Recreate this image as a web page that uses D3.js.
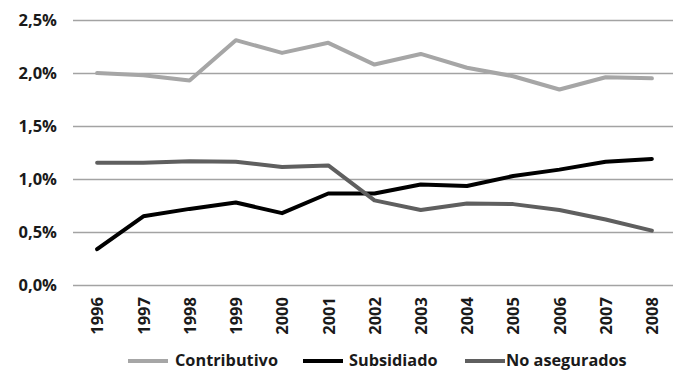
<!DOCTYPE html>
<html>
<head>
<meta charset="utf-8">
<script src="https://cdn.jsdelivr.net/npm/d3@7"></script>
<style>
  html, body { margin: 0; padding: 0; background: #fff; }
  svg { display: block; font-family: "Open Sans", "Liberation Sans", Arial, sans-serif; font-weight: bold; }
</style>
</head>
<body>
<svg id="chart" width="673" height="370"></svg>
<script>
// Health spending shares by insurance regime, 1996-2008 (% of GDP)
const years = ["1996","1997","1998","1999","2000","2001","2002","2003","2004","2005","2006","2007","2008"];
const contributivo = [2.00, 1.98, 1.93, 2.31, 2.19, 2.285, 2.08, 2.18, 2.05, 1.97, 1.845, 1.96, 1.95];
const subsidiado   = [0.34, 0.65, 0.72, 0.78, 0.68, 0.865, 0.865, 0.95, 0.935, 1.03, 1.09, 1.165, 1.19];
const noAsegurados = [1.155, 1.155, 1.17, 1.165, 1.115, 1.13, 0.80, 0.71, 0.77, 0.765, 0.71, 0.62, 0.515];
const yTicks = [0, 0.5, 1.0, 1.5, 2.0, 2.5];
const seriesNames = ["Contributivo", "Subsidiado", "No asegurados"];

const series = [
  { name: seriesNames[0], values: contributivo, color: "#a6a6a6" },
  { name: seriesNames[1], values: subsidiado,   color: "#000000" },
  { name: seriesNames[2], values: noAsegurados, color: "#5f5f5f" }
];

const svg = d3.select("#chart");

const x = d3.scalePoint().domain(years).range([74, 675]).padding(0.5);
const y = d3.scaleLinear().domain([0, 2.5]).range([285.3, 20]);

const fmt = v => v.toFixed(1).replace(".", ",") + "%";

// horizontal gridlines
svg.append("g")
  .selectAll("line")
  .data(yTicks)
  .join("line")
  .attr("x1", 73).attr("x2", 675)
  .attr("y1", d => Math.round(y(d)) + 0.5)
  .attr("y2", d => Math.round(y(d)) + 0.5)
  .attr("stroke", "#a3a3a3")
  .attr("stroke-width", 1.5);

// y axis labels
const yAxis = d3.axisLeft(y).tickValues(yTicks).tickFormat(fmt).tickSize(0).tickPadding(0);
svg.append("g")
  .attr("transform", "translate(57,0)")
  .call(yAxis)
  .call(g => g.select(".domain").remove())
  .call(g => g.selectAll("text")
    .attr("fill", "#1a1a1a")
    .style("font-size", "16.5px")
    .style("font-family", "'Open Sans', sans-serif")
    .style("font-weight", "bold"));

// x axis labels, rotated
const xAxis = d3.axisBottom(x).tickSize(0).tickPadding(0);
svg.append("g")
  .attr("transform", "translate(0,297)")
  .call(xAxis)
  .call(g => g.select(".domain").remove())
  .call(g => g.selectAll("text")
    .attr("transform", "rotate(-90)")
    .attr("text-anchor", "end")
    .attr("x", 0)
    .attr("y", 0)
    .attr("dy", "0.35em")
    .attr("fill", "#1a1a1a")
    .style("font-size", "16.5px")
    .style("font-family", "'Open Sans', sans-serif")
    .style("font-weight", "bold"));

// series lines
const line = d3.line()
  .x((d, i) => x(years[i]))
  .y(d => y(d));

svg.append("g")
  .selectAll("path")
  .data(series)
  .join("path")
  .attr("d", d => line(d.values))
  .attr("fill", "none")
  .attr("stroke", d => d.color)
  .attr("stroke-width", 4)
  .attr("stroke-linejoin", "round")
  .attr("stroke-linecap", "round");

// legend
const legendPos = [
  { lx1: 128, lx2: 168, tx: 175 },
  { lx1: 303, lx2: 343, tx: 349 },
  { lx1: 465, lx2: 505, tx: 506 }
];
const legend = svg.append("g").selectAll("g")
  .data(series)
  .join("g");
legend.append("line")
  .attr("x1", (d, i) => legendPos[i].lx1)
  .attr("x2", (d, i) => legendPos[i].lx2)
  .attr("y1", 361).attr("y2", 361)
  .attr("stroke", d => d.color)
  .attr("stroke-width", 4);
legend.append("text")
  .attr("x", (d, i) => legendPos[i].tx)
  .attr("y", 365.5)
  .attr("fill", "#1a1a1a")
  .style("font-size", "16.3px")
  .text(d => d.name);
</script>
</body>
</html>
